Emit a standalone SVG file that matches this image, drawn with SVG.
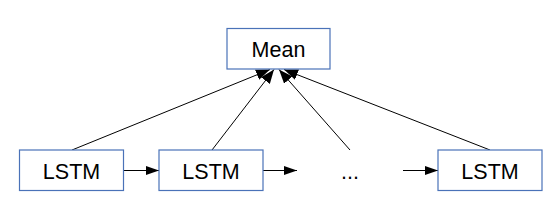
<svg xmlns="http://www.w3.org/2000/svg" width="550" height="218" viewBox="0 0 550 218">
<style>
.box{fill:#fff;stroke:#4a72b8;stroke-width:1.2}
.lbl{font-family:"Liberation Sans",Arial,sans-serif;font-size:21.5px;fill:#000;text-anchor:middle}
.ln{stroke:#000;stroke-width:1;fill:none}
</style>
<defs>
<marker id="ah" viewBox="0 0 13 9" refX="13" refY="4.5" markerWidth="13" markerHeight="9" markerUnits="userSpaceOnUse" orient="auto">
<path d="M0,0 L13,4.5 L0,9 z" fill="#000"/>
</marker>
<marker id="ah2" viewBox="0 0 14 11" refX="14" refY="5.5" markerWidth="14" markerHeight="11" markerUnits="userSpaceOnUse" orient="auto">
<path d="M0,0 L14,5.5 L0,11 z" fill="#000"/>
</marker>
</defs>
<g id="connectors">
<line class="ln" x1="123" y1="170.5" x2="159" y2="170.5" marker-end="url(#ah)"/>
<line class="ln" x1="263" y1="170.5" x2="297" y2="170.5" marker-end="url(#ah)"/>
<line class="ln" x1="403" y1="170.5" x2="438" y2="170.5" marker-end="url(#ah)"/>
<line class="ln" x1="72" y1="150" x2="270" y2="69.5" marker-end="url(#ah2)"/>
<line class="ln" x1="212" y1="150" x2="274" y2="69.5" marker-end="url(#ah2)"/>
<line class="ln" x1="350" y1="150" x2="279" y2="69.5" marker-end="url(#ah2)"/>
<line class="ln" x1="490" y1="150" x2="284" y2="69.5" marker-end="url(#ah2)"/>
</g>
<g id="mean">
<rect class="box" x="227" y="28.5" width="103" height="40.5"/>
<text class="lbl" x="278.5" y="56.5">Mean</text>
</g>
<g id="lstm1">
<rect class="box" x="19.5" y="150" width="104" height="40.5"/>
<text class="lbl" x="71.5" y="178.5">LSTM</text>
</g>
<g id="lstm2">
<rect class="box" x="159" y="150" width="104" height="40.5"/>
<text class="lbl" x="211" y="178.5">LSTM</text>
</g>
<g id="dots">
<text class="lbl" x="350" y="178.5">...</text>
</g>
<g id="lstm3">
<rect class="box" x="438" y="150" width="104" height="40.5"/>
<text class="lbl" x="490" y="178.5">LSTM</text>
</g>
</svg>
